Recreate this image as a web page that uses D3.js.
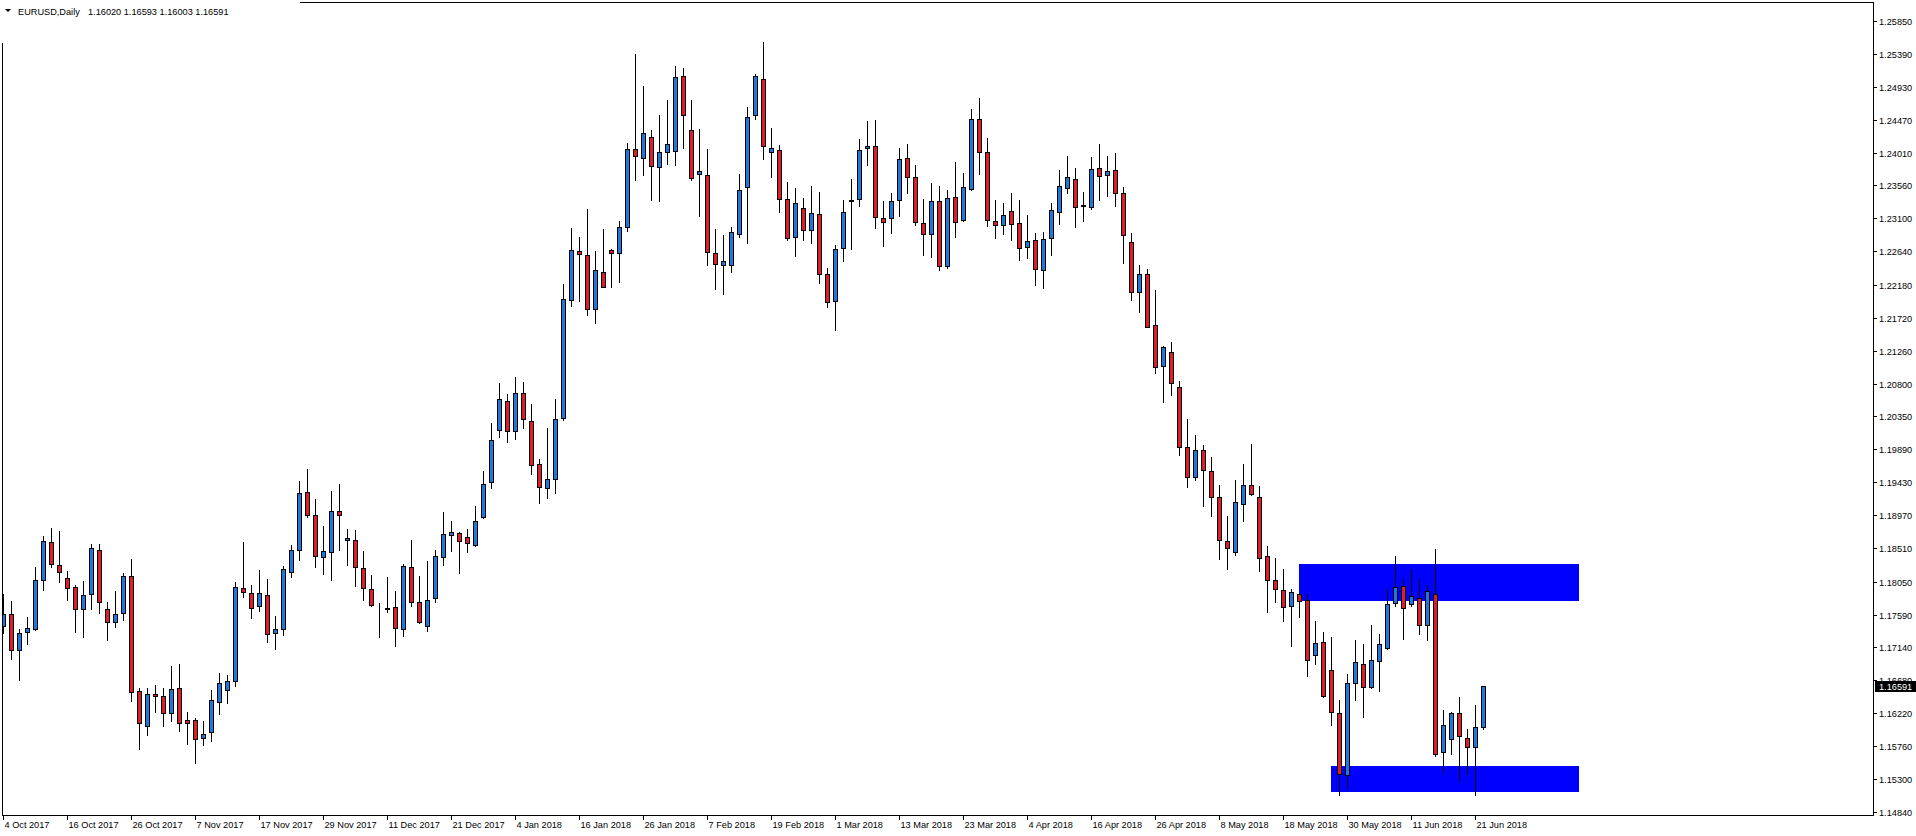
<!DOCTYPE html>
<html><head><meta charset="utf-8">
<script src="https://cdn.jsdelivr.net/npm/d3@7/dist/d3.min.js"></script>
<style>html,body{margin:0;padding:0;background:#fff;}svg{display:block;}</style>
</head><body>
<svg id="chart" width="1916" height="836"></svg>
<script>
const symbolTitle = "EURUSD,Daily";
const titleValues = "1.16020 1.16593 1.16003 1.16591";
const lastPrice = 1.16591;

const open = [1.17428,1.17594,1.17094,1.17344,1.17395,1.18077,1.18596,1.18276,1.18095,1.17970,
1.17664,1.17873,1.18484,1.17664,1.17483,1.17608,1.18123,1.16524,1.16037,1.16482,
1.16454,1.16218,1.16565,1.16120,1.16120,1.15870,1.15953,1.16371,1.16537,1.16663,
1.17956,1.17886,1.17706,1.17859,1.17330,1.17386,1.18179,1.18484,1.19291,1.18971,
1.18387,1.18457,1.19027,1.18624,1.18624,1.18234,1.17942,1.17722,1.17665,1.17694,
1.17384,1.18249,1.17764,1.17430,1.17816,1.18387,1.18693,1.18721,1.18675,1.18554,
1.18946,1.19436,1.20157,1.20555,1.20140,1.20665,1.20278,1.19679,1.19350,1.19471,
1.20330,1.21962,1.22642,1.22585,1.21835,1.22348,1.22654,1.22619,1.22977,1.24072,
1.23939,1.24228,1.23813,1.24020,1.24043,1.25087,1.24326,1.23715,1.23697,1.22625,
1.22446,1.22446,1.22879,1.23533,1.24534,1.25035,1.24020,1.24047,1.23366,1.22838,
1.23241,1.22935,1.23157,1.22323,1.21948,1.22685,1.23338,1.23366,1.24075,1.24103,
1.23102,1.23102,1.23352,1.23936,1.23672,1.23032,1.22879,1.23338,1.22434,1.23394,
1.23074,1.23505,1.24479,1.24020,1.23060,1.23004,1.23199,1.23032,1.22699,1.22796,
1.22379,1.22824,1.23185,1.23519,1.23644,1.23269,1.23255,1.23797,1.23700,1.23769,
1.23452,1.22778,1.22074,1.22322,1.21613,1.21048,1.21238,1.20754,1.19918,1.19503,
1.19878,1.19584,1.19232,1.18615,1.18454,1.19134,1.19388,1.19232,1.18402,1.18067,
1.17929,1.17710,1.17880,1.17791,1.17024,1.17202,1.16816,1.16228,1.15357,1.16632,
1.16897,1.16580,1.16943,1.17122,1.17750,1.17992,1.17733,1.17825,1.17445,1.17871,
1.15674,1.15859,1.16216,1.15871,1.15744,1.16020];
const high = [1.17877,1.17780,1.17386,1.17557,1.18253,1.18684,1.18795,1.18753,1.18197,1.18002,
1.18058,1.18568,1.18568,1.17766,1.17919,1.18165,1.18364,1.16565,1.16565,1.16612,
1.16565,1.16876,1.16904,1.16232,1.16148,1.16111,1.16542,1.16779,1.16751,1.18039,
1.18600,1.18002,1.18211,1.18086,1.17571,1.18267,1.18554,1.19449,1.19616,1.19198,
1.18823,1.19310,1.19407,1.18781,1.18767,1.18475,1.18141,1.17752,1.18112,1.17920,
1.18300,1.18629,1.18128,1.18335,1.18491,1.19016,1.18889,1.18745,1.18779,1.19102,
1.19586,1.20255,1.20809,1.20659,1.20895,1.20820,1.20515,1.19754,1.20186,1.20590,
1.22187,1.22965,1.22844,1.23230,1.22648,1.22954,1.22677,1.23063,1.24147,1.25387,
1.24943,1.24332,1.24539,1.24747,1.25219,1.25191,1.24747,1.24343,1.24066,1.22954,
1.22867,1.22982,1.23720,1.24647,1.25109,1.25554,1.24358,1.24117,1.23602,1.23524,
1.23385,1.23551,1.23468,1.22411,1.22726,1.23352,1.23649,1.24205,1.24455,1.24469,
1.23343,1.23454,1.24080,1.24136,1.23844,1.23371,1.23593,1.23551,1.23496,1.23885,
1.23732,1.24622,1.24775,1.24219,1.23357,1.23315,1.23454,1.23357,1.23148,1.22898,
1.22912,1.23315,1.23774,1.23969,1.23802,1.23468,1.23955,1.24136,1.23970,1.24011,
1.23539,1.22899,1.22455,1.22392,1.22103,1.21325,1.21383,1.20841,1.20310,1.20085,
1.19947,1.19780,1.19393,1.18961,1.19463,1.19687,1.19964,1.19376,1.18546,1.18379,
1.18223,1.17952,1.17885,1.17883,1.17502,1.17341,1.17277,1.16401,1.16758,1.17237,
1.17185,1.17445,1.17318,1.17952,1.18407,1.18096,1.18211,1.18085,1.18004,1.18500,
1.16263,1.16234,1.16441,1.15997,1.16332,1.16593];
const low = [1.17339,1.16978,1.16686,1.17186,1.17377,1.17937,1.18257,1.18044,1.17794,1.17353,
1.17284,1.17673,1.17618,1.17242,1.17423,1.17520,1.16394,1.15726,1.15921,1.16241,
1.16046,1.16116,1.15977,1.15796,1.15532,1.15782,1.15838,1.16213,1.16366,1.16602,
1.17840,1.17548,1.17645,1.17214,1.17117,1.17312,1.18118,1.18355,1.18953,1.18257,
1.18160,1.18077,1.18494,1.18285,1.17993,1.17798,1.17710,1.17284,1.17619,1.17159,
1.17286,1.17707,1.17476,1.17367,1.17764,1.18283,1.18479,1.18162,1.18456,1.18537,
1.18940,1.19356,1.20065,1.19996,1.20036,1.20192,1.19552,1.19148,1.19217,1.19287,
1.20301,1.21875,1.21945,1.21760,1.21639,1.22141,1.22141,1.22221,1.22919,1.23628,
1.23697,1.23363,1.23346,1.23859,1.23847,1.24084,1.23628,1.23138,1.22446,1.22112,
1.22043,1.22348,1.22838,1.22753,1.24479,1.23932,1.23681,1.23195,1.22805,1.22583,
1.22796,1.22763,1.22207,1.21873,1.21544,1.22513,1.22680,1.23278,1.23848,1.22972,
1.22722,1.22902,1.23139,1.23459,1.23004,1.22597,1.22569,1.22388,1.22416,1.22847,
1.23070,1.23500,1.23723,1.23000,1.22833,1.22889,1.22805,1.22527,1.22555,1.22179,
1.22138,1.22597,1.23028,1.23459,1.22986,1.23069,1.23236,1.23361,1.23417,1.23278,
1.22484,1.21971,1.21803,1.21590,1.20956,1.20552,1.20639,1.19803,1.19370,1.19468,
1.19094,1.18967,1.18367,1.18217,1.18425,1.18898,1.19260,1.18194,1.17623,1.17762,
1.17496,1.17156,1.17560,1.16741,1.16897,1.16447,1.16061,1.15086,1.15173,1.16395,
1.16159,1.16575,1.16522,1.17115,1.17710,1.17254,1.17710,1.17323,1.17237,1.15617,
1.15421,1.15651,1.15294,1.15369,1.15075,1.16003];
const close = [1.17594,1.17094,1.17330,1.17400,1.18067,1.18610,1.18290,1.18188,1.17956,1.17664,
1.17859,1.18512,1.17771,1.17483,1.17594,1.18123,1.16510,1.16079,1.16482,1.16454,
1.16218,1.16551,1.16079,1.16079,1.15856,1.15926,1.16398,1.16635,1.16663,1.17970,
1.17900,1.17678,1.17886,1.17316,1.17386,1.18220,1.18484,1.19277,1.18971,1.18401,
1.18471,1.19027,1.18971,1.18651,1.18248,1.17956,1.17720,1.17726,1.17685,1.17400,
1.18266,1.17764,1.17493,1.17799,1.18399,1.18704,1.18733,1.18612,1.18583,1.18889,
1.19413,1.20013,1.20584,1.20140,1.20665,1.20307,1.19667,1.19361,1.19471,1.20307,
1.21973,1.22654,1.22602,1.21835,1.22388,1.22152,1.22619,1.22977,1.24072,1.23963,
1.24285,1.23830,1.24020,1.24130,1.25064,1.24545,1.23663,1.23766,1.22636,1.22463,
1.22504,1.22907,1.23501,1.24506,1.25077,1.24103,1.24075,1.23366,1.22824,1.23310,
1.22935,1.23171,1.22323,1.21934,1.22671,1.23185,1.23352,1.24047,1.24103,1.23116,
1.23046,1.23338,1.23922,1.23672,1.23046,1.22879,1.23338,1.22434,1.23380,1.23046,
1.23533,1.24479,1.24020,1.23074,1.23004,1.23144,1.23018,1.22685,1.22782,1.22393,
1.22810,1.23213,1.23547,1.23672,1.23255,1.23283,1.23783,1.23686,1.23755,1.23450,
1.22864,1.22074,1.22322,1.21596,1.21031,1.21308,1.20812,1.19918,1.19503,1.19878,
1.19601,1.19220,1.18627,1.18511,1.19151,1.19388,1.19267,1.18373,1.18067,1.17940,
1.17692,1.17900,1.17779,1.16954,1.17191,1.16464,1.16234,1.15375,1.16632,1.16926,
1.16580,1.16954,1.17179,1.17733,1.17969,1.17681,1.17842,1.17445,1.17923,1.15651,
1.16049,1.16216,1.15899,1.15744,1.16026,1.16591];

const dateLabels = ["4 Oct 2017","16 Oct 2017","26 Oct 2017","7 Nov 2017","17 Nov 2017","29 Nov 2017",
"11 Dec 2017","21 Dec 2017","4 Jan 2018","16 Jan 2018","26 Jan 2018","7 Feb 2018","19 Feb 2018",
"1 Mar 2018","13 Mar 2018","23 Mar 2018","4 Apr 2018","16 Apr 2018","26 Apr 2018","8 May 2018",
"18 May 2018","30 May 2018","11 Jun 2018","21 Jun 2018"];
const dateLabelBars = [0,8,16,24,32,40,48,56,64,72,80,88,96,104,112,120,128,136,144,152,160,168,176,184];

const priceTicks = ["1.25850","1.25390","1.24930","1.24470","1.24010","1.23560","1.23100","1.22640",
"1.22180","1.21720","1.21260","1.20800","1.20350","1.19890","1.19430","1.18970","1.18510","1.18050",
"1.17590","1.17140","1.16680","1.16220","1.15760","1.15300","1.14840"];

// zones: start bar, end bar, upper price, lower price
const zoneStart = [162, 166];
const zoneEnd = [197, 197];
const zoneTop = [1.18292, 1.15478];
const zoneBottom = [1.17785, 1.15127];

const bars = open.map((o,i)=>({i, o, h:high[i], l:low[i], c:close[i]}));

const svg = d3.select("#chart");
const W = 1916, H = 836;
const pL = 2, pT = 2, pR = 1873, pB = 815;

const x = d3.scaleLinear().domain([0, 185]).range([3.5, 3.5 + 8*185]);
const y = d3.scaleLinear().domain([1.14840, 1.25850]).range([812.3, 20.7]);

svg.append("rect").attr("width", W).attr("height", H).attr("fill", "#fff");

svg.append("defs").append("clipPath").attr("id","plot")
  .append("rect").attr("x", pL+1).attr("y", pT+1).attr("width", pR-pL-1).attr("height", pB-pT-1);

const plot = svg.append("g").attr("clip-path","url(#plot)");

plot.selectAll("rect.zone").data(zoneStart).join("rect")
  .attr("class","zone")
  .attr("x", d=>Math.round(x(d)-0.5))
  .attr("width", (d,k)=>Math.round(x(zoneEnd[k]) - x(d)))
  .attr("y", (d,k)=>Math.round(y(zoneTop[k])))
  .attr("height", (d,k)=>Math.round(y(zoneBottom[k])) - Math.round(y(zoneTop[k])))
  .attr("fill", "#0000ff");

const BLUE = "#1e78dc", RED = "#dc1e28";

plot.selectAll("line.wick").data(bars).join("line")
  .attr("class","wick")
  .attr("x1", d=>x(d.i)).attr("x2", d=>x(d.i))
  .attr("y1", d=>Math.round(y(d.h))).attr("y2", d=>Math.round(y(d.l))+1)
  .attr("stroke","#000").attr("stroke-width",1).attr("shape-rendering","crispEdges");

plot.selectAll("rect.body").data(bars).join("rect")
  .attr("class","body")
  .attr("x", d=>x(d.i)-2)
  .attr("width", 4)
  .attr("y", d=>Math.round(y(Math.max(d.o,d.c)))+0.5)
  .attr("height", d=>Math.max(0, Math.round(y(Math.min(d.o,d.c))) - Math.round(y(Math.max(d.o,d.c)))))
  .attr("fill", d=>d.c>=d.o ? BLUE : RED)
  .attr("stroke","#000").attr("stroke-width",1).attr("shape-rendering","crispEdges");

// frame (top-left corner area is blank in the reference)
const frame = svg.append("g").attr("stroke","#000").attr("stroke-width",1).attr("shape-rendering","crispEdges");
frame.append("line").attr("x1", 300).attr("x2", pR+0.5).attr("y1", pT+0.5).attr("y2", pT+0.5);
frame.append("line").attr("x1", pL+0.5).attr("x2", pL+0.5).attr("y1", 43).attr("y2", pB+0.5);
frame.append("line").attr("x1", pR+0.5).attr("x2", pR+0.5).attr("y1", pT).attr("y2", pB+0.5);
frame.append("line").attr("x1", pL).attr("x2", pR+1).attr("y1", pB+0.5).attr("y2", pB+0.5);

const FONT = "'Liberation Sans', Arial, sans-serif";

const pa = svg.append("g");
priceTicks.forEach(t=>{
  const yy = Math.round(y(+t));
  pa.append("line").attr("x1", pR).attr("x2", pR+4).attr("y1", yy+0.5).attr("y2", yy+0.5)
    .attr("stroke","#000").attr("shape-rendering","crispEdges");
  pa.append("text").attr("x", pR+6).attr("y", yy+0.5).attr("dy","0.35em")
    .attr("font-family", FONT).attr("font-size", "9.2px").attr("fill","#000").text(t);
});

const ly = Math.round(y(lastPrice));
svg.append("rect").attr("x", pR+2).attr("y", ly-5).attr("width", W-pR-2).attr("height", 11).attr("fill","#000");
svg.append("text").attr("x", pR+6).attr("y", ly+0.5).attr("dy","0.35em")
  .attr("font-family", FONT).attr("font-size","9.2px").attr("fill","#fff").text(lastPrice.toFixed(5));

const da = svg.append("g");
dateLabels.forEach((lab,k)=>{
  const xx = Math.floor(x(dateLabelBars[k]))+0.5;
  da.append("line").attr("x1", xx).attr("x2", xx).attr("y1", pB).attr("y2", pB+5)
    .attr("stroke","#000").attr("shape-rendering","crispEdges");
  da.append("text").attr("x", xx+1).attr("y", 828)
    .attr("font-family", FONT).attr("font-size","9.2px").attr("fill","#000").text(lab);
});

svg.append("path").attr("d","M5,9 L11,9 L8,12 Z").attr("fill","#000");
svg.append("text").attr("x", 18).attr("y", 14.5).attr("font-family", FONT).attr("font-size","9.2px")
  .attr("fill","#000").text(symbolTitle);
svg.append("text").attr("x", 88).attr("y", 14.5).attr("font-family", FONT).attr("font-size","9.2px")
  .attr("fill","#000").text(titleValues);
</script>
</body></html>
